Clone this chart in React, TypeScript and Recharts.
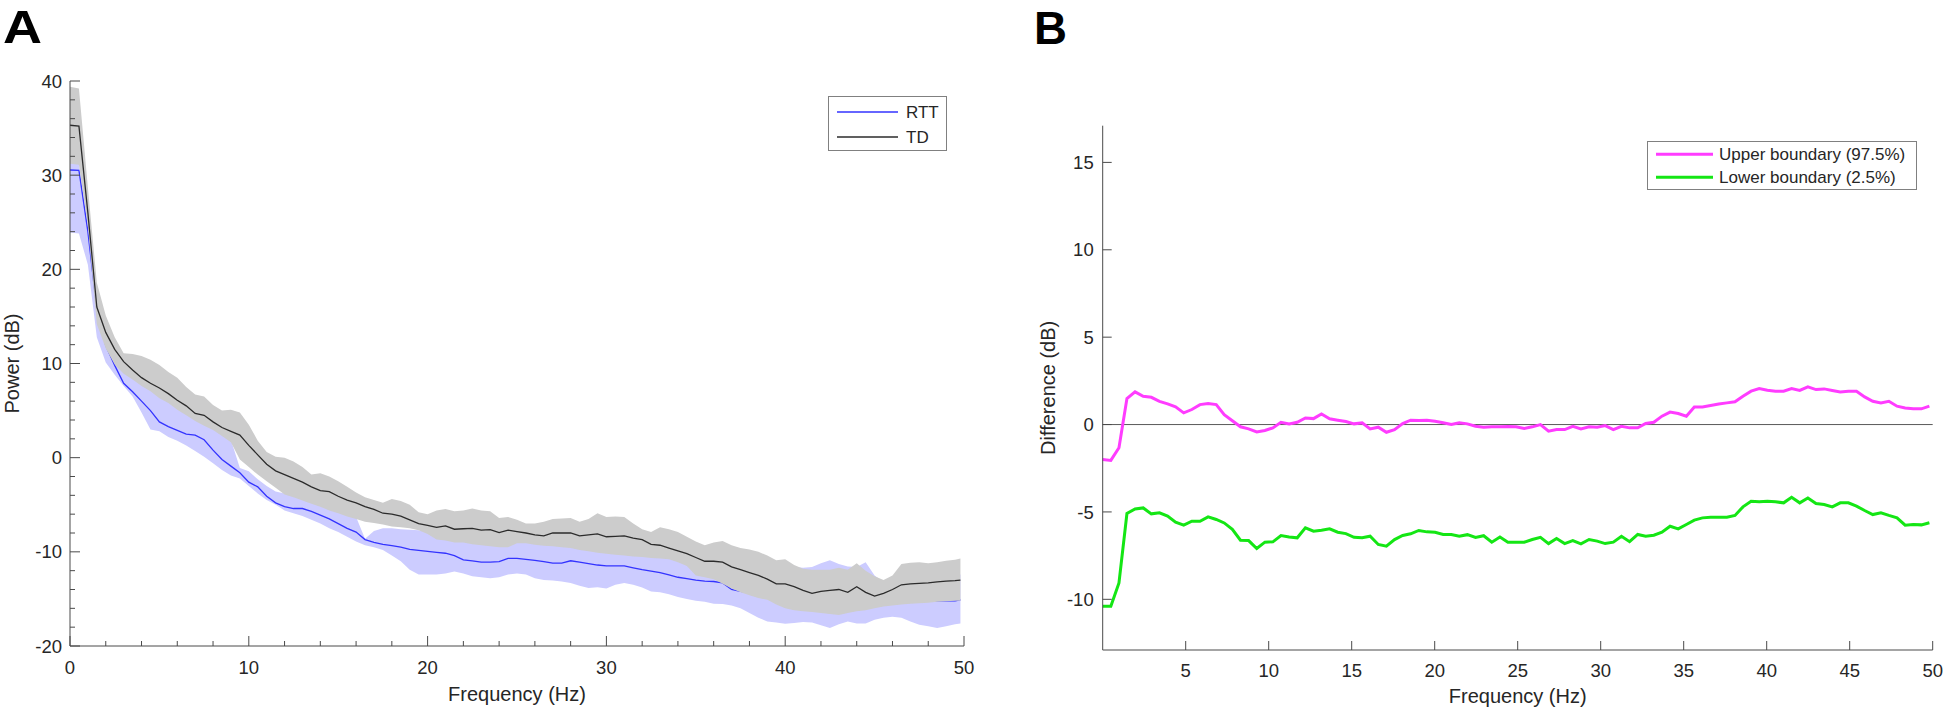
import React from "react";
import { Area, ComposedChart, Legend, Line, LineChart, ReferenceLine, XAxis, YAxis } from "recharts";

const FONT = '"Liberation Sans", Arial, Helvetica, sans-serif';
const INK = "#262626";
const AXIS = "#4a4a4a";
const TICK_FS = 18.5;
const LABEL_FS = 20;

// ---- panel A: power spectra (0.5 Hz steps)
const freqA = [
  0, 0.5, 1, 1.5, 2, 2.5, 3, 3.5, 4, 4.5, 5, 5.5, 6, 6.5, 7, 7.5, 8, 8.5, 9, 9.5,
  10, 10.5, 11, 11.5, 12, 12.5, 13, 13.5, 14, 14.5, 15, 15.5, 16, 16.5, 17, 17.5, 18, 18.5, 19, 19.5,
  20, 20.5, 21, 21.5, 22, 22.5, 23, 23.5, 24, 24.5, 25, 25.5, 26, 26.5, 27, 27.5, 28, 28.5, 29, 29.5,
  30, 30.5, 31, 31.5, 32, 32.5, 33, 33.5, 34, 34.5, 35, 35.5, 36, 36.5, 37, 37.5, 38, 38.5, 39, 39.5,
  40, 40.5, 41, 41.5, 42, 42.5, 43, 43.5, 44, 44.5, 45, 45.5, 46, 46.5, 47, 47.5, 48, 48.5, 49, 49.5,
  49.8,
];

const rttMean = [
  30.55, 30.5, 24.0, 15.8, 11.9, 9.8, 7.9, 7.0, 6.0, 5.0,
  3.8, 3.3, 2.9, 2.5, 2.4, 1.9, 0.8, -0.2, -0.9, -1.6,
  -2.6, -3.1, -4.1, -4.8, -5.2, -5.4, -5.4, -5.7, -6.1, -6.5,
  -7.0, -7.5, -7.9, -8.7, -9.0, -9.2, -9.35, -9.5, -9.75, -9.85,
  -9.95, -10.05, -10.15, -10.4, -10.85, -10.95, -11.1, -11.1, -11.05, -10.7,
  -10.7, -10.8, -10.9, -11.05, -11.2, -11.2, -10.95, -11.1, -11.25, -11.4,
  -11.5, -11.5, -11.5, -11.7, -11.9, -12.05, -12.2, -12.45, -12.7, -12.85,
  -13.0, -13.1, -13.15, -13.3, -14.0, -14.2, -14.3, -14.5, -14.6, -14.8,
  -14.9, -15.0, -15.0, -15.1, -15.0, -14.9, -15.0, -15.0, -14.9, -15.0,
  -15.1, -15.1, -15.2, -15.1, -15.2, -15.1, -15.2, -15.2, -15.2, -15.2,
  -15.1,
];
const rttLo = [
  23.9, 23.8, 20.5, 12.8, 10.1, 8.8, 7.6, 6.5, 4.8, 3.0,
  2.8, 2.2, 1.8, 1.3, 0.7, 0.1, -0.6, -1.3, -1.9, -2.2,
  -3.0, -3.8, -4.5, -5.0, -5.6, -5.9, -6.2, -6.6, -7.0, -7.5,
  -7.9, -8.4, -8.9, -9.3, -9.5, -9.8, -10.4, -11.0, -11.9, -12.4,
  -12.4, -12.4, -12.3, -12.1, -12.3, -12.6, -12.7, -12.8, -12.7, -12.4,
  -12.3, -12.4, -12.8, -13.0, -13.05, -13.15, -13.3, -13.6, -13.85, -13.75,
  -13.9, -13.5, -13.3, -13.5, -13.8, -14.2, -14.3, -14.5, -14.8, -15.0,
  -15.2, -15.3, -15.5, -15.55, -15.7, -16.0, -16.5, -17.0, -17.4, -17.5,
  -17.65, -17.55, -17.45, -17.5, -17.8, -18.1, -17.7, -17.4, -17.6, -17.6,
  -17.2, -17.0, -16.9, -17.0, -17.4, -17.75, -17.9, -18.1, -17.9, -17.7,
  -17.6,
];
const rttHi = [
  31.3, 31.2, 24.8, 16.5, 12.5, 10.8, 9.5, 8.8, 8.0, 7.5,
  6.8, 6.2, 5.5, 4.9, 4.3, 3.8, 3.3, 2.6, 1.9, -1.1,
  -1.45, -2.3, -3.0, -3.6, -3.8, -4.0, -4.3, -4.6, -5.0, -5.4,
  -5.7, -6.0, -6.3, -8.6, -7.8, -7.5, -7.5, -7.6, -7.65, -7.7,
  -7.9, -8.4, -8.5, -8.7, -8.8, -9.0, -9.1, -9.2, -9.3, -9.2,
  -8.9, -8.9, -9.0, -9.1, -9.2, -9.3, -9.4, -9.6, -9.7, -9.9,
  -10.0, -10.1, -10.2, -10.3, -10.4, -10.5, -10.5, -10.6, -10.9, -11.2,
  -11.5, -11.7, -11.8, -11.9, -12.0, -12.1, -12.2, -12.3, -12.0, -11.8,
  -11.6, -11.6, -11.7, -11.6, -11.2, -10.9, -11.3, -11.55, -11.6, -11.1,
  -12.5, -13.2, -13.0, -12.8, -12.7, -12.6, -12.6, -12.5, -12.5, -12.4,
  -12.4,
];
const tdMean = [
  35.3, 35.2, 26.0, 16.0, 13.3, 11.5, 10.2, 9.3, 8.5, 7.9,
  7.4, 6.8, 6.1, 5.5, 4.7, 4.5, 3.8, 3.2, 2.8, 2.4,
  1.3, 0.3, -0.7, -1.4, -1.8, -2.2, -2.6, -3.1, -3.5, -3.6,
  -4.1, -4.5, -4.8, -5.2, -5.5, -5.9, -6.0, -6.2, -6.6, -7.0,
  -7.2, -7.4, -7.25, -7.6, -7.55, -7.5, -7.7, -7.65, -7.95, -7.7,
  -7.85, -8.0, -8.2, -8.3, -8.0, -8.0, -8.0, -8.3, -8.2, -8.1,
  -8.4, -8.35, -8.3, -8.55, -8.7, -9.2, -9.3, -9.6, -9.9, -10.2,
  -10.6, -11.0, -11.0, -11.1, -11.6, -11.9, -12.2, -12.5, -12.9, -13.4,
  -13.4, -13.7, -14.1, -14.4, -14.2, -14.1, -14.0, -14.3, -13.7, -14.3,
  -14.7, -14.4, -14.0, -13.5, -13.4, -13.35, -13.3, -13.2, -13.1, -13.05,
  -13.0,
];
const tdLo = [
  31.2, 31.1, 24.6, 14.2, 11.6, 9.9, 8.9, 8.3, 7.6, 7.05,
  6.3, 5.8, 5.1, 4.5, 3.9, 3.4, 2.95, 2.3, 1.65, -0.2,
  -1.0, -1.8, -2.5, -3.2, -3.9, -4.2, -4.55, -4.9, -5.2, -5.6,
  -5.9, -6.25, -6.5, -6.8, -6.95, -7.1, -7.3, -7.4, -7.5, -7.7,
  -8.1, -8.7, -8.8, -9.0, -9.0, -9.2, -9.3, -9.4, -9.5, -9.5,
  -9.1, -9.1, -9.25, -9.35, -9.4, -9.5, -9.6, -9.8, -9.95, -10.1,
  -10.2, -10.3, -10.4, -10.5, -10.55, -10.65, -10.7, -10.8, -11.1, -11.5,
  -12.5, -12.7, -12.9, -13.4, -13.9, -14.3, -14.6, -14.9, -15.1, -15.6,
  -16.0, -16.2, -16.3, -16.4, -16.5, -16.6, -16.7, -16.5, -16.3, -16.2,
  -16.0, -15.8, -15.7, -15.6, -15.5, -15.45, -15.4, -15.3, -15.25, -15.2,
  -15.2,
];
const tdHi = [
  39.4, 39.2, 28.7, 18.6, 15.1, 12.8, 11.1, 11.0, 10.8, 10.4,
  9.85, 9.1, 8.5, 7.5, 6.7, 6.5, 5.6, 5.0, 5.1, 4.8,
  3.5, 1.8, 0.6, 0.1, 0.0, -0.4, -1.0, -1.8, -1.65, -2.0,
  -2.5, -3.1, -3.7, -4.2, -4.5, -4.8, -4.4, -4.6, -5.0, -5.8,
  -6.0, -5.6, -5.45, -5.7, -5.6, -5.4, -5.6, -5.7, -6.4, -6.3,
  -6.6, -7.0, -7.0, -6.8, -6.5, -6.45, -6.4, -6.8, -6.5, -5.9,
  -6.3, -6.25, -6.3, -7.0, -7.6, -7.9, -7.4, -7.6, -7.9, -8.4,
  -8.9, -9.3, -9.0, -8.85, -9.3, -9.6, -9.75, -10.0, -10.4, -10.9,
  -10.8, -11.4, -11.8, -11.9, -11.9, -11.9, -11.7, -11.9, -11.2, -12.0,
  -12.6, -13.0, -12.5, -11.3, -11.15, -11.1, -11.2, -11.1, -10.95, -10.85,
  -10.7,
];

const xTicksA = [0, 2, 4, 6, 8, 10, 12, 14, 16, 18, 20, 22, 24, 26, 28, 30, 32, 34, 36, 38, 40, 42, 44, 46, 48, 50];
const xMajorA = [0, 10, 20, 30, 40, 50];
const yTicksA = [-20, -18, -16, -14, -12, -10, -8, -6, -4, -2, 0, 2, 4, 6, 8, 10, 12, 14, 16, 18, 20, 22, 24, 26, 28, 30, 32, 34, 36, 38, 40];
const yMajorA = [-20, -10, 0, 10, 20, 30, 40];

// ---- panel B: permutation boundaries (FFT bins of ~0.488 Hz)
const freqB = [
  0, 0.49, 0.98, 1.46, 1.95, 2.44, 2.93, 3.42, 3.91, 4.39,
  4.88, 5.37, 5.86, 6.35, 6.84, 7.32, 7.81, 8.3, 8.79, 9.28,
  9.77, 10.25, 10.74, 11.23, 11.72, 12.21, 12.7, 13.18, 13.67, 14.16,
  14.65, 15.14, 15.63, 16.11, 16.6, 17.09, 17.58, 18.07, 18.55, 19.04,
  19.53, 20.02, 20.51, 21.0, 21.48, 21.97, 22.46, 22.95, 23.44, 23.93,
  24.41, 24.9, 25.39, 25.88, 26.37, 26.86, 27.34, 27.83, 28.32, 28.81,
  29.3, 29.79, 30.27, 30.76, 31.25, 31.74, 32.23, 32.71, 33.2, 33.69,
  34.18, 34.67, 35.16, 35.64, 36.13, 36.62, 37.11, 37.6, 38.09, 38.57,
  39.06, 39.55, 40.04, 40.53, 41.02, 41.5, 41.99, 42.48, 42.97, 43.46,
  43.95, 44.43, 44.92, 45.41, 45.9, 46.39, 46.88, 47.36, 47.85, 48.34,
  48.83, 49.32, 49.8,
];
const upperB = [
  -2.0, -2.05, -1.33, 1.49, 1.87, 1.62, 1.56, 1.33, 1.18, 1.01,
  0.67, 0.86, 1.14, 1.2, 1.14, 0.57, 0.22, -0.13, -0.25, -0.42,
  -0.34, -0.19, 0.13, 0.04, 0.13, 0.38, 0.34, 0.61, 0.33, 0.25,
  0.17, 0.04, 0.1, -0.25, -0.15, -0.44, -0.29, 0.06, 0.25, 0.23,
  0.25, 0.19, 0.1, 0.0, 0.1, 0.04, -0.1, -0.15, -0.13, -0.13,
  -0.11, -0.13, -0.23, -0.13, 0.0, -0.38, -0.29, -0.29, -0.1, -0.25,
  -0.13, -0.15, -0.06, -0.29, -0.1, -0.19, -0.19, 0.06, 0.13, 0.48,
  0.71, 0.63, 0.48, 1.01, 1.01, 1.09, 1.18, 1.24, 1.3, 1.62,
  1.91, 2.06, 1.96, 1.91, 1.91, 2.06, 1.95, 2.16, 2.0, 2.04,
  1.95, 1.87, 1.91, 1.91, 1.58, 1.33, 1.24, 1.33, 1.05, 0.95,
  0.91, 0.9, 1.05,
];
const lowerB = [
  -10.4, -10.4, -9.06, -5.09, -4.83, -4.77, -5.11, -5.05, -5.24, -5.59,
  -5.76, -5.53, -5.53, -5.28, -5.43, -5.63, -6.0, -6.62, -6.64, -7.09,
  -6.73, -6.71, -6.35, -6.43, -6.48, -5.91, -6.1, -6.05, -5.97, -6.16,
  -6.24, -6.45, -6.48, -6.39, -6.86, -6.96, -6.58, -6.35, -6.25, -6.06,
  -6.14, -6.16, -6.29, -6.29, -6.39, -6.3, -6.46, -6.36, -6.73, -6.44,
  -6.73, -6.73, -6.73, -6.58, -6.45, -6.81, -6.52, -6.81, -6.64, -6.83,
  -6.58, -6.67, -6.81, -6.73, -6.39, -6.7, -6.29, -6.39, -6.33, -6.16,
  -5.82, -5.97, -5.72, -5.47, -5.34, -5.3, -5.3, -5.3, -5.2, -4.71,
  -4.39, -4.42, -4.39, -4.42, -4.48, -4.16, -4.48, -4.2, -4.52, -4.58,
  -4.71, -4.48, -4.48, -4.67, -4.92, -5.15, -5.05, -5.2, -5.34, -5.76,
  -5.72, -5.74, -5.62,
];

const xTicksB = [5, 10, 15, 20, 25, 30, 35, 40, 45, 50];
const yTicksB = [-10, -5, 0, 5, 10, 15];

const legendA = [
  { name: "RTT", color: "#3333ff", width: 1.3 },
  { name: "TD", color: "#2b2b2b", width: 1.3 },
];
const legendB = [
  { name: "Upper boundary (97.5%)", color: "#ff3cff", width: 3 },
  { name: "Lower boundary (2.5%)", color: "#14e614", width: 3 },
];

const dataA = freqA.map((f, i) => ({
  f,
  rtt: rttMean[i],
  rttBand: [rttLo[i], rttHi[i]],
  td: tdMean[i],
  tdBand: [tdLo[i], tdHi[i]],
}));
const dataB = freqB.map((f, i) => ({ f, upper: upperB[i], lower: lowerB[i] }));

// inward MATLAB-style ticks; minor ticks get half length and no label
function XTick(p: any) {
  const { x, y, payload, majors, len, dir, gap, showLabel } = p;
  const major = majors.includes(payload.value);
  const l = major ? len : len / 2;
  return (
    <g>
      <line x1={x} x2={x} y1={y} y2={y + dir * l} stroke={AXIS} strokeWidth={1} />
      {showLabel && major && (
        <text x={x} y={y + gap} textAnchor="middle" fill={INK} fontSize={TICK_FS} fontFamily={FONT}>
          {payload.value}
        </text>
      )}
    </g>
  );
}

function YTick(p: any) {
  const { x, y, payload, majors, len, dir, gap, showLabel } = p;
  const major = majors.includes(payload.value);
  const l = major ? len : len / 2;
  return (
    <g>
      <line x1={x} x2={x + dir * l} y1={y} y2={y} stroke={AXIS} strokeWidth={1} />
      {showLabel && major && (
        <text x={x - gap} y={y} dy="0.36em" textAnchor="end" fill={INK} fontSize={TICK_FS} fontFamily={FONT}>
          {payload.value}
        </text>
      )}
    </g>
  );
}

function LegendBox({ items, w, h, rows, x0, x1, tx }: any) {
  return (
    <svg width={w} height={h} style={{ display: "block" }}>
      <rect x={0.5} y={0.5} width={w - 1} height={h - 1} fill="#fff" stroke="#808080" strokeWidth={1} />
      {items.map((it: any, i: number) => (
        <g key={it.name}>
          <line x1={x0} x2={x1} y1={rows[i]} y2={rows[i]} stroke={it.color} strokeWidth={it.width} />
          <text x={tx} y={rows[i]} dy="0.36em" fill={INK} fontSize={17} fontFamily={FONT}>
            {it.name}
          </text>
        </g>
      ))}
    </svg>
  );
}

export default function App() {
  return (
    <div style={{ position: "absolute", left: 0, top: 0, width: 1946, height: 711, background: "#fff", fontFamily: FONT }}>
      <div style={{ position: "absolute", left: 0, top: 0 }}>
        <ComposedChart width={1000} height={711} data={dataA} margin={{ top: 81, right: 36, bottom: 10, left: 10 }}>
          <Area dataKey="rttBand" type="linear" stroke="none" fill="#ccccff" fillOpacity={1} isAnimationActive={false} />
          <Area dataKey="rtt" type="linear" stroke="#3333ff" strokeWidth={1.3} fill="none" fillOpacity={0} isAnimationActive={false} />
          <Area dataKey="tdBand" type="linear" stroke="none" fill="#cccccc" fillOpacity={1} isAnimationActive={false} />
          <Area dataKey="td" type="linear" stroke="#2b2b2b" strokeWidth={1.3} fill="none" fillOpacity={0} isAnimationActive={false} />
          <XAxis
            dataKey="f"
            type="number"
            domain={[0, 50]}
            ticks={xTicksA}
            interval={0}
            height={55}
            tickSize={0}
            tickMargin={0}
            tickLine={false}
            stroke={AXIS}
            tick={<XTick majors={xMajorA} len={10} dir={-1} gap={27.5} showLabel />}
            label={{ value: "Frequency (Hz)", position: "insideBottom", offset: 0, fill: INK, fontSize: LABEL_FS, fontFamily: FONT }}
          />
          <YAxis
            type="number"
            domain={[-20, 40]}
            ticks={yTicksA}
            interval={0}
            width={60}
            tickSize={0}
            tickMargin={0}
            tickLine={false}
            stroke={AXIS}
            tick={<YTick majors={yMajorA} len={10} dir={1} gap={8} showLabel />}
            label={{ value: "Power (dB)", angle: -90, position: "insideLeft", offset: 2, style: { textAnchor: "middle" }, fill: INK, fontSize: LABEL_FS, fontFamily: FONT }}
          />
          <Legend
            layout="vertical"
            align="center"
            verticalAlign="middle"
            wrapperStyle={{ left: 828, top: 96, width: 119, height: 55 }}
            content={() => <LegendBox items={legendA} w={119} h={55} rows={[16, 41]} x0={9} x1={70} tx={78} />}
          />
        </ComposedChart>
      </div>

      <div style={{ position: "absolute", left: 1000, top: 0 }}>
        <LineChart width={946} height={711} data={dataB} margin={{ top: 125.7, right: 13.3, bottom: 8, left: 42.7 }}>
          <ReferenceLine y={0} stroke="#5a5a5a" strokeWidth={1} />
          <Line dataKey="upper" type="linear" stroke="#ff3cff" strokeWidth={3} dot={false} isAnimationActive={false} />
          <Line dataKey="lower" type="linear" stroke="#14e614" strokeWidth={3} dot={false} isAnimationActive={false} />
          <XAxis
            dataKey="f"
            type="number"
            domain={[0, 50]}
            ticks={xTicksB}
            interval={0}
            height={53}
            tickSize={0}
            tickMargin={0}
            tickLine={false}
            stroke={AXIS}
            tick={<XTick majors={xTicksB} len={9} dir={-1} gap={26.7} showLabel />}
            label={{ value: "Frequency (Hz)", position: "insideBottom", offset: 0, fill: INK, fontSize: LABEL_FS, fontFamily: FONT }}
          />
          <XAxis
            xAxisId="top"
            orientation="top"
            dataKey="f"
            type="number"
            domain={[0, 50]}
            ticks={xTicksB}
            interval={0}
            height={0}
            tickSize={0}
            tickMargin={0}
            tickLine={false}
            stroke={AXIS}
            tick={<XTick majors={xTicksB} len={9} dir={1} gap={0} showLabel={false} />}
          />
          <YAxis
            type="number"
            domain={[-12.9, 17.1]}
            ticks={yTicksB}
            interval={0}
            width={60}
            tickSize={0}
            tickMargin={0}
            tickLine={false}
            stroke={AXIS}
            tick={<YTick majors={yTicksB} len={9} dir={1} gap={9} showLabel />}
            label={{ value: "Difference (dB)", angle: -90, position: "insideLeft", offset: 5.3, style: { textAnchor: "middle" }, fill: INK, fontSize: LABEL_FS, fontFamily: FONT }}
          />
          <YAxis
            yAxisId="right"
            orientation="right"
            type="number"
            domain={[-12.9, 17.1]}
            ticks={yTicksB}
            interval={0}
            width={0}
            tickSize={0}
            tickMargin={0}
            tickLine={false}
            stroke={AXIS}
            tick={<YTick majors={yTicksB} len={9} dir={-1} gap={0} showLabel={false} />}
          />
          <Legend
            layout="vertical"
            align="center"
            verticalAlign="middle"
            wrapperStyle={{ left: 647, top: 141, width: 270, height: 49 }}
            content={() => <LegendBox items={legendB} w={270} h={49} rows={[13.3, 36.3]} x0={9} x1={66} tx={72} />}
          />
        </LineChart>
      </div>

      <svg width={1946} height={711} style={{ position: "absolute", left: 0, top: 0, pointerEvents: "none" }}>
        <text x={3} y={43} fontSize={46} fontWeight="bold" fontFamily={FONT} fill="#000" textLength={39} lengthAdjust="spacingAndGlyphs">
          A
        </text>
        <text x={1034} y={44} fontSize={46} fontWeight="bold" fontFamily={FONT} fill="#000" textLength={33} lengthAdjust="spacingAndGlyphs">
          B
        </text>
      </svg>
    </div>
  );
}
